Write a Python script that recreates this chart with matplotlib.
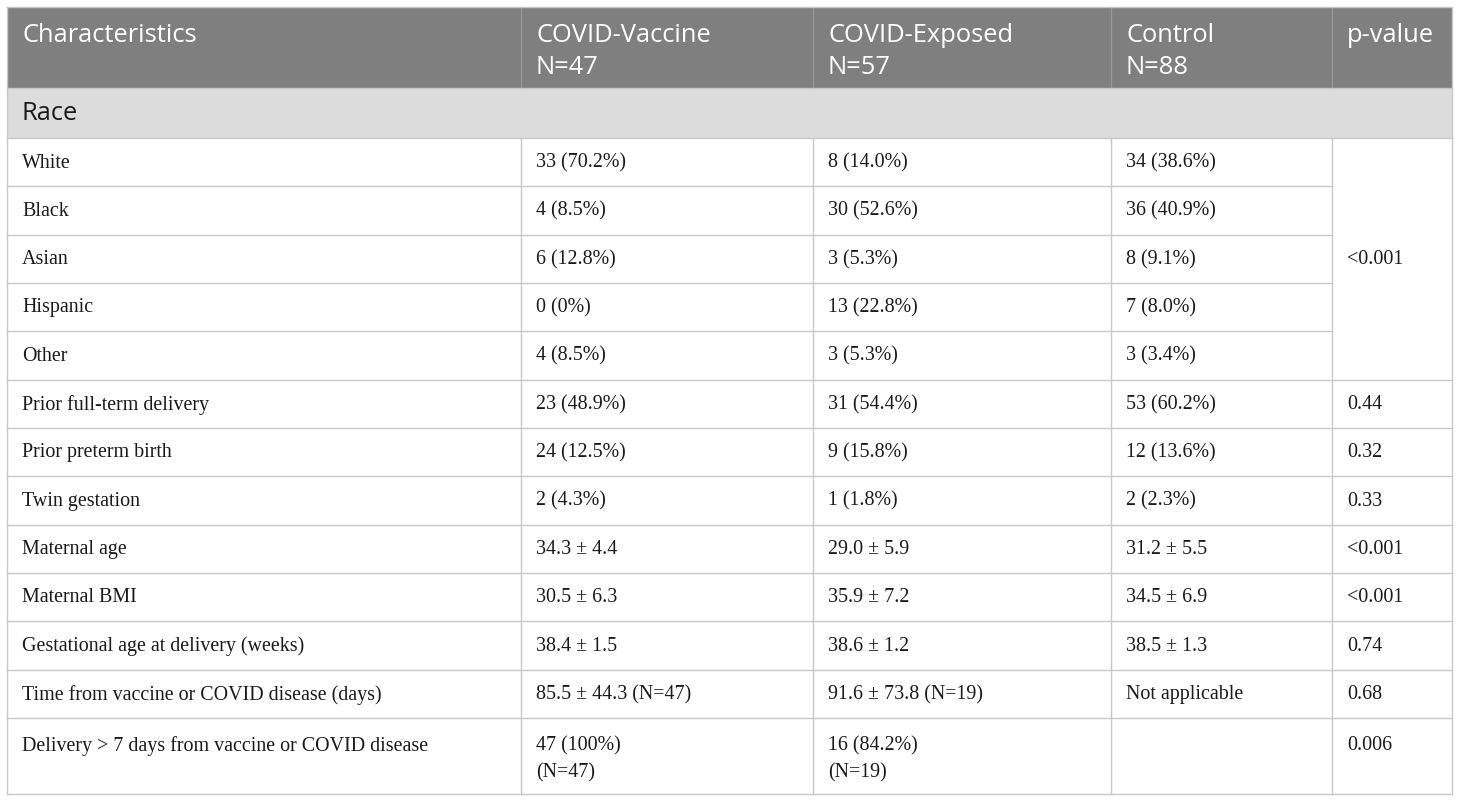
import matplotlib.pyplot as plt
from matplotlib.patches import Rectangle

# table content
headers = ["Characteristics", "COVID-Vaccine\nN=47", "COVID-Exposed\nN=57", "Control\nN=88", "p-value"]
section = "Race"
characteristics = ["White", "Black", "Asian", "Hispanic", "Other",
                   "Prior full-term delivery", "Prior preterm birth", "Twin gestation",
                   "Maternal age", "Maternal BMI", "Gestational age at delivery (weeks)",
                   "Time from vaccine or COVID disease (days)",
                   "Delivery > 7 days from vaccine or COVID disease"]
vaccine = ["33 (70.2%)", "4 (8.5%)", "6 (12.8%)", "0 (0%)", "4 (8.5%)",
           "23 (48.9%)", "24 (12.5%)", "2 (4.3%)", "34.3 ± 4.4", "30.5 ± 6.3",
           "38.4 ± 1.5", "85.5 ± 44.3 (N=47)", "47 (100%)\n(N=47)"]
exposed = ["8 (14.0%)", "30 (52.6%)", "3 (5.3%)", "13 (22.8%)", "3 (5.3%)",
           "31 (54.4%)", "9 (15.8%)", "1 (1.8%)", "29.0 ± 5.9", "35.9 ± 7.2",
           "38.6 ± 1.2", "91.6 ± 73.8 (N=19)", "16 (84.2%)\n(N=19)"]
control = ["34 (38.6%)", "36 (40.9%)", "8 (9.1%)", "7 (8.0%)", "3 (3.4%)",
           "53 (60.2%)", "12 (13.6%)", "2 (2.3%)", "31.2 ± 5.5", "34.5 ± 6.9",
           "38.5 ± 1.3", "Not applicable", ""]
race_p = "<0.001"
n_race = 5
other_p = ["0.44", "0.32", "0.33", "<0.001", "<0.001", "0.74", "0.68", "0.006"]

# layout in pixels
W, H = 1460, 802
col_x = [7, 521, 813, 1111, 1332, 1452]
top = 7
header_h = 81
section_h = 50
row_h = 48.33
last_h = 76
pad = 15
line_col = "#c8c8c8"
text_col = "#1a1a1a"

fig = plt.figure(figsize=(W / 100, H / 100), dpi=100)
ax = fig.add_axes([0, 0, 1, 1])
ax.set_xlim(0, W)
ax.set_ylim(H, 0)
ax.axis("off")

sans = "Open Sans"
serif = "Liberation Serif"
head_size = 18.4
body_size = 14.4


def cell_text(x, y, s, step, **kw):
    # one text per line so the first line sits where a single line would
    for j, line in enumerate(s.split("\n")):
        ax.text(x, y + j * step, line, va="center", ha="left", **kw)


# header
ax.add_patch(Rectangle((col_x[0], top), col_x[-1] - col_x[0], header_h, fc="#7f7f7f", ec="none"))
for i, h in enumerate(headers):
    cell_text(col_x[i] + pad, top + 29, h, 31, color="white", fontsize=head_size, family=sans)
    if i > 0:
        ax.plot([col_x[i], col_x[i]], [top, top + header_h], color="#9a9a9a", lw=0.9)

# section row
y0 = top + header_h
ax.add_patch(Rectangle((col_x[0], y0), col_x[-1] - col_x[0], section_h, fc="#dcdcdc", ec="none"))
ax.text(col_x[0] + pad, y0 + section_h / 2 + 1, section, color=text_col, fontsize=head_size,
        family=sans, va="center", ha="left")
ax.plot([col_x[0], col_x[-1]], [y0, y0], color=line_col, lw=1)

# body rows
y = y0 + section_h
row_tops = []
for k in range(len(characteristics)):
    h = last_h if k == len(characteristics) - 1 else row_h
    row_tops.append((y, h))
    y += h
bottom = y

for k, (yt, h) in enumerate(row_tops):
    first = yt + (28 if h > row_h else 25)
    cells = [characteristics[k], vaccine[k], exposed[k], control[k]]
    for i, c in enumerate(cells):
        cell_text(col_x[i] + pad, first, c, 27, color=text_col, fontsize=body_size, family=serif)
    # horizontal line at top of row (p-value column merged for race rows)
    x_end = col_x[4] if 0 < k < n_race else col_x[5]
    ax.plot([col_x[0], x_end], [yt, yt], color=line_col, lw=1)
    if k >= n_race:
        cell_text(col_x[4] + pad, first, other_p[k - n_race], 27, color=text_col,
                  fontsize=body_size, family=serif)

# merged race p-value
race_top = row_tops[0][0]
race_bot = row_tops[n_race][0]
ax.text(col_x[4] + pad, (race_top + race_bot) / 2 + 1, race_p, color=text_col, fontsize=body_size,
        family=serif, va="center", ha="left")

# vertical lines of the body
for x in col_x[1:-1]:
    ax.plot([x, x], [race_top, bottom], color=line_col, lw=1)

# outer border
ax.plot([col_x[0], col_x[-1], col_x[-1], col_x[0], col_x[0]],
        [top, top, bottom, bottom, top], color=line_col, lw=1)

fig.savefig("out.png", dpi=100)
